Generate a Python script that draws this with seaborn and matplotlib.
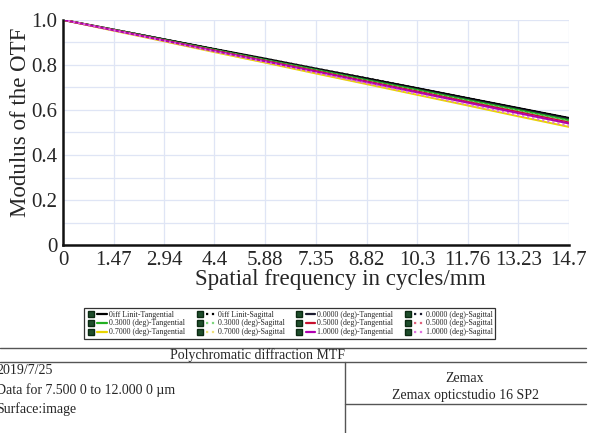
import matplotlib.pyplot as plt
import seaborn as sns
import pandas as pd
from matplotlib.lines import Line2D
from matplotlib.legend_handler import HandlerTuple

# spatial frequency (cycles/mm) and tick labels
freq = [0, 1.47, 2.94, 4.4, 5.88, 7.35, 8.82, 10.3, 11.76, 13.23, 14.7]
freq_labels = ['0', '1.47', '2.94', '4.4', '5.88', '7.35', '8.82', '10.3', '11.76', '13.23', '14.7']

diff_t = [1.000, 0.957, 0.914, 0.871, 0.828, 0.784, 0.741, 0.697, 0.653, 0.609, 0.565]
diff_s = [1.000, 0.957, 0.914, 0.871, 0.828, 0.784, 0.741, 0.697, 0.653, 0.609, 0.565]
f00_t = [1.000, 0.956, 0.912, 0.868, 0.824, 0.780, 0.736, 0.692, 0.648, 0.604, 0.560]
f00_s = [1.000, 0.956, 0.912, 0.868, 0.824, 0.780, 0.736, 0.692, 0.648, 0.604, 0.560]
f03_t = [1.000, 0.956, 0.911, 0.867, 0.822, 0.778, 0.733, 0.689, 0.644, 0.600, 0.555]
f03_s = [1.000, 0.955, 0.910, 0.865, 0.820, 0.775, 0.730, 0.685, 0.640, 0.595, 0.550]
f05_t = [1.000, 0.955, 0.909, 0.864, 0.818, 0.773, 0.727, 0.682, 0.636, 0.591, 0.545]
f05_s = [1.000, 0.954, 0.908, 0.862, 0.816, 0.770, 0.724, 0.678, 0.632, 0.586, 0.540]
f07_t = [1.000, 0.952, 0.905, 0.857, 0.810, 0.762, 0.715, 0.667, 0.620, 0.572, 0.525]
f07_s = [1.000, 0.953, 0.907, 0.860, 0.814, 0.767, 0.721, 0.674, 0.628, 0.581, 0.535]
f10_t = [1.000, 0.954, 0.908, 0.862, 0.816, 0.770, 0.724, 0.678, 0.632, 0.586, 0.540]
f10_s = [1.000, 0.953, 0.906, 0.859, 0.812, 0.765, 0.718, 0.671, 0.624, 0.577, 0.530]

series_names = ['0iff Linit-Tangential', '0iff Linit-Sagittal',
                '0.0000 (deg)-Tangential', '0.0000 (deg)-Sagittal',
                '0.3000 (deg)-Tangential', '0.3000 (deg)-Sagittal',
                '0.5000 (deg)-Tangential', '0.5000 (deg)-Sagittal',
                '0.7000 (deg)-Tangential', '0.7000 (deg)-Sagittal',
                '1.0000 (deg)-Tangential', '1.0000 (deg)-Sagittal']
series_vals = [diff_t, diff_s, f00_t, f00_s, f03_t, f03_s,
               f05_t, f05_s, f07_t, f07_s, f10_t, f10_s]
colors = ['#000000', '#000000', '#1c1c30', '#1c1c30', '#22b022', '#7fd67f',
          '#c8102e', '#e0607a', '#e8d400', '#ede07a', '#b000b0', '#e070e0']
styles = ['-', ':', '-', ':', '-', ':', '-', ':', '-', ':', '-', ':']

sns.set_style('white')
plt.rcParams['font.family'] = ['Liberation Serif', 'DejaVu Serif']

fig = plt.figure(figsize=(5.9, 4.33), dpi=100)
ax = fig.add_axes([0.107, 0.434, 0.857, 0.520])

handles = {}
for name, vals, c, ls in zip(series_names, series_vals, colors, styles):
    df = pd.DataFrame({'freq': freq, 'mtf': vals})
    sns.lineplot(data=df, x='freq', y='mtf', ax=ax, color=c, linestyle=ls,
                 linewidth=1.4, legend=False)
    sq = Line2D([], [], marker='s', color='#1e4d2b', markersize=5, linestyle='none',
                markeredgecolor='#0b2a12')
    ln = Line2D([], [], color=c, linestyle=ls, linewidth=1.6)
    handles[name] = (sq, ln)

ax.set_xlim(0, 14.7)
ax.set_ylim(0, 1.0)
ax.set_xticks(freq)
ax.set_xticklabels(freq_labels)
ax.set_yticks([0, 0.2, 0.4, 0.6, 0.8, 1.0])
ax.set_yticklabels(['0', '0.2', '0.4', '0.6', '0.8', '1.0'])
ax.set_yticks([0.1, 0.3, 0.5, 0.7, 0.9], minor=True)
ax.grid(True, which='both', color='#dfe5f5', linewidth=0.9)
ax.tick_params(axis='both', labelsize=15, length=3, pad=1)
ax.tick_params(axis='y', which='minor', length=0)
for s in ['top', 'right']:
    ax.spines[s].set_visible(False)
for s in ['left', 'bottom']:
    ax.spines[s].set_linewidth(1.8)
    ax.spines[s].set_color('#111111')
ax.set_xlabel('Spatial frequency in cycles/mm', fontsize=16.6)
ax.set_ylabel('Modulus of the OTF', fontsize=16.5, ha='center', va='center',
              rotation_mode='default')
ax.xaxis.set_label_coords(0.549, -0.105, transform=ax.transAxes)
ax.yaxis.set_label_coords(-0.085, 0.547, transform=ax.transAxes)

# legend laid out row by row (matplotlib fills by column)
order = []
for col in range(4):
    for row in range(3):
        order.append(series_names[row * 4 + col])
leg = fig.legend([handles[n] for n in order], order, ncol=4, loc='center',
                 bbox_to_anchor=(0.491, 0.253), fontsize=5.7, frameon=True,
                 fancybox=False, edgecolor='black', handlelength=2.6,
                 handletextpad=0.3, columnspacing=1.2, labelspacing=0.12,
                 borderpad=0.3, handler_map={tuple: HandlerTuple(ndivide=None, pad=0.2)})
leg.get_frame().set_linewidth(0.9)

# info table below the chart
def hline(y, x0, x1):
    fig.add_artist(Line2D([x0 / 590, x1 / 590], [1 - y / 433, 1 - y / 433],
                          color='#555555', linewidth=1.0))

def vline(x, y0, y1):
    fig.add_artist(Line2D([x / 590, x / 590], [1 - y0 / 433, 1 - y1 / 433],
                          color='#555555', linewidth=1.0))

hline(348, 0, 586)
hline(362, 0, 586)
vline(345, 362, 433)
hline(404, 345, 586)

fig.text(257 / 590, 1 - 355 / 433, 'Polychromatic diffraction MTF', ha='center', va='center', fontsize=10)
fig.text(-4 / 590, 1 - 371 / 433, '2019/7/25', ha='left', va='center', fontsize=10)
fig.text(-4 / 590, 1 - 390 / 433, 'Data for 7.500 0 to 12.000 0 \u00b5m', ha='left', va='center', fontsize=10)
fig.text(-4 / 590, 1 - 409 / 433, 'Surface:image', ha='left', va='center', fontsize=10)
fig.text(465 / 590, 1 - 378 / 433, 'Zemax', ha='center', va='center', fontsize=10)
fig.text(465 / 590, 1 - 395 / 433, 'Zemax opticstudio 16 SP2', ha='center', va='center', fontsize=10)

fig.savefig('out.png', dpi=100)
